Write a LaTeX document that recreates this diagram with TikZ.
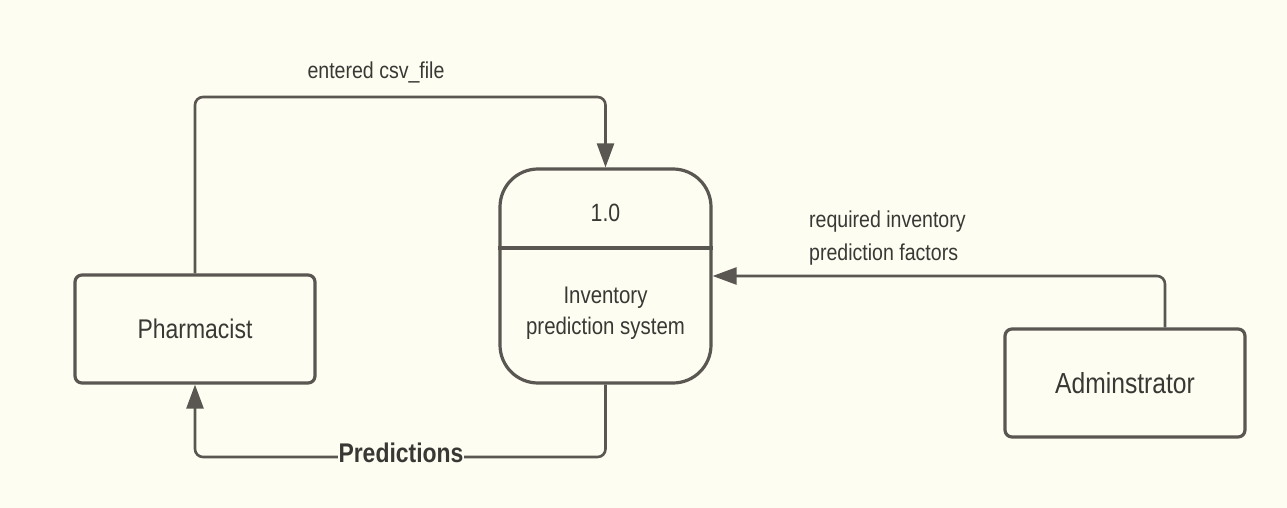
\documentclass[tikz,border=0pt]{standalone}
\usepackage{fontspec}
\setmainfont{Liberation Sans}[FakeStretch=0.85]
\usetikzlibrary{arrows.meta,calc}
\definecolor{bg}{HTML}{FDFDF1}
\definecolor{edge}{HTML}{5A5652}
\definecolor{ink}{HTML}{3A3835}
\tikzset{
  entity/.style={draw=edge, line width=3.2pt, rounded corners=7pt, fill=bg,
    minimum width=240pt, minimum height=108pt, inner sep=0pt,
    font=\fontsize{27}{32}\selectfont, text=ink},
  process/.style={draw=edge, line width=3.2pt, rounded corners=38pt, fill=bg,
    minimum width=211pt, minimum height=214pt, inner sep=0pt},
  flow/.style={draw=edge, line width=2.6pt, rounded corners=8pt,
    -{Triangle[length=24pt,width=17pt]}},
  flowlabel/.style={text=ink, font=\fontsize{23}{33}\selectfont, inner sep=0pt}
}
\begin{document}
\begin{tikzpicture}[x=1pt,y=-1pt]
  \fill[bg] (0,0) rectangle (1287,508);
  \useasboundingbox (0,0) rectangle (1287,508);

  % external entities and the process
  \node[entity] (pharm) at (195,329) {Pharmacist};
  \node[entity, font=\fontsize{29}{34}\selectfont] (admin) at (1125,383) {Adminstrator};
  \node[process] (proc) at (605.5,276) {};
  \draw[edge, line width=3.2pt] (proc.west |- 0,248) -- (proc.east |- 0,248);
  \node[text=ink, font=\fontsize{25}{30}\selectfont] (pid) at (605.5,213) {1.0};
  \node[text=ink, font=\fontsize{24}{31}\selectfont, align=center] (pname) at (605.5,313)
    {Inventory\\prediction system};

  % data flows
  \coordinate (adminout) at ([xshift=40pt]admin.north);
  \draw[flow] (pharm.north) -- (pharm.north |- 0,97) -- (proc.north |- 0,97) -- (proc.north);
  \draw[flow] (adminout) |- (proc.east);
  \draw[flow] (proc.south) -- (proc.south |- 0,457) -- (pharm.south |- 0,457) -- (pharm.south);

  % flow labels
  \node[flowlabel] (l1) at (376,72) {entered csv\_file};
  \node[flowlabel, anchor=west, align=left] (l2) at (809,238)
    {required inventory\\prediction factors};
  \node[fill=bg, text=ink, inner sep=1pt, font=\fontsize{27}{30}\bfseries\selectfont] (l3)
    at (401,453) {Predictions};
\end{tikzpicture}
\end{document}
